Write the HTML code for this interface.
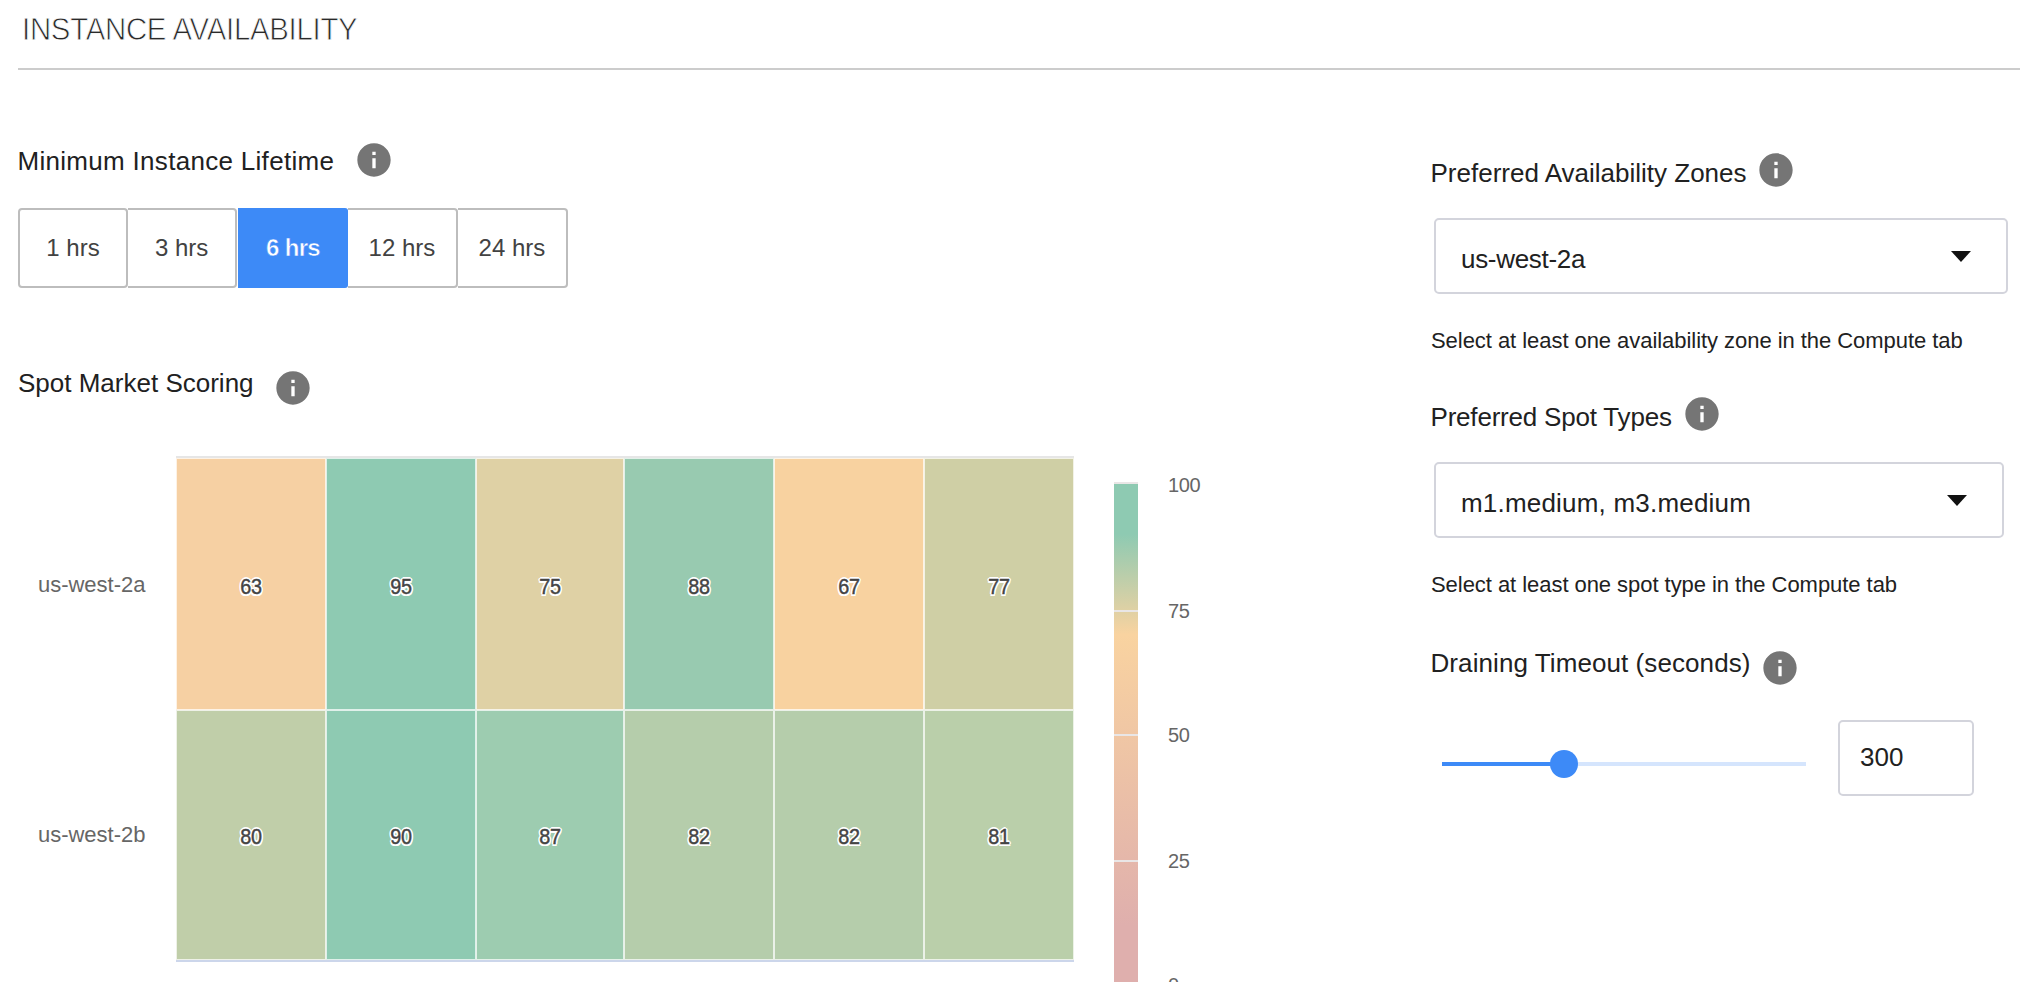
<!DOCTYPE html>
<html lang="en">
<head>
<meta charset="utf-8">
<title>Instance Availability</title>
<style>
*{box-sizing:border-box;margin:0;padding:0}
html,body{width:2020px;height:982px;overflow:hidden;background:#fff}
body{position:relative;font-family:"Liberation Sans",sans-serif;color:#212121}
.abs{position:absolute;white-space:nowrap}
.title{left:22px;top:11px;font-size:32px;line-height:36px;color:#2a2a2a;-webkit-text-stroke:0.8px #fff;letter-spacing:-0.3px;transform-origin:0 50%;transform:scaleX(0.918)}
.hr{left:18px;top:68px;width:2002px;height:2px;background:#cccccc}
.lbl{font-size:26px;line-height:30px;color:#212121}
.help{font-size:22px;line-height:26px;color:#212121}
.ico{width:40px;height:40px}
.btn{top:208px;height:80px;border:2px solid #bdbdbd;border-radius:4px;background:#fff;font-size:24px;line-height:76px;text-align:center;color:#424242}
.btn.nl{border-left:none;border-top-left-radius:0;border-bottom-left-radius:0}
.btn.on{background:#3d8af7;border:none;border-radius:0 3px 3px 0;color:#fff;font-weight:bold;line-height:80px;letter-spacing:-0.7px;-webkit-text-stroke:0.5px #3d8af7}
.sel{border:2px solid #d3d4dc;border-radius:5px;background:#fff;height:76px}
.sel span{position:absolute;left:25px;top:23px;font-size:26px;line-height:32px;color:#212121}
.sel i{position:absolute;width:0;height:0;border-left:10.5px solid transparent;border-right:10.5px solid transparent;border-top:11px solid #111}
.cell{position:absolute;border:1px solid rgba(255,255,255,.72);text-align:center}
.cell span{position:absolute;left:0;right:0;top:50%;margin-top:-10px;font-size:22.8px;line-height:24px;font-weight:normal;letter-spacing:-0.4px;color:#444;transform:scaleX(0.87);-webkit-text-stroke:0.45px #444;text-shadow:2px 0 0 #fff,-2px 0 0 #fff,0 2px 0 #fff,0 -2px 0 #fff,1.5px 1.5px 0 #fff,-1.5px 1.5px 0 #fff,1.5px -1.5px 0 #fff,-1.5px -1.5px 0 #fff,0 0 1px #fff}
.cell.r2 span{margin-top:-11px}
.ylab{font-size:22px;line-height:28px;color:#666;text-align:right;width:130px;left:15.5px}
.tick{font-size:20px;line-height:24px;color:#666;left:1168px;letter-spacing:-0.4px}
.grid{left:1114px;width:24px;height:2px;background:#e9e6e6}
</style>
</head>
<body>
<div class="abs title">INSTANCE AVAILABILITY</div>
<div class="abs hr"></div>

<div class="abs lbl" style="left:17.5px;top:146px;letter-spacing:0.3px">Minimum Instance Lifetime</div>
<svg class="abs ico" style="left:353.8px;top:139.9px" viewBox="0 0 24 24"><path fill="#757575" d="M12 2C6.48 2 2 6.48 2 12s4.48 10 10 10 10-4.480 10-10S17.520 2 12 2zm1 15h-2v-6h2v6zm0-8h-2V7h2v2z"/></svg>

<div class="abs btn" style="left:18px;width:110px">1 hrs</div>
<div class="abs btn nl" style="left:128px;width:109.3px">3 hrs</div>
<div class="abs btn on" style="left:238px;width:110px">6 hrs</div>
<div class="abs btn nl" style="left:348px;width:109.9px">12 hrs</div>
<div class="abs btn nl" style="left:457.9px;width:110px">24 hrs</div>

<div class="abs lbl" style="left:18px;top:368px">Spot Market Scoring</div>
<svg class="abs ico" style="left:273.1px;top:367.8px" viewBox="0 0 24 24"><path fill="#757575" d="M12 2C6.48 2 2 6.48 2 12s4.48 10 10 10 10-4.480 10-10S17.520 2 12 2zm1 15h-2v-6h2v6zm0-8h-2V7h2v2z"/></svg>

<!-- heatmap -->
<div class="abs" style="left:176px;top:456px;width:898px;height:2px;background:#e6e6e6"></div>
<div class="cell" style="left:176px;top:458px;width:150px;height:252px;background:#f6d0a3"><span>63</span></div>
<div class="cell" style="left:326px;top:458px;width:150px;height:252px;background:#8ecab2"><span>95</span></div>
<div class="cell" style="left:476px;top:458px;width:148px;height:252px;background:#dfd1a5"><span>75</span></div>
<div class="cell" style="left:624px;top:458px;width:150px;height:252px;background:#98cab0"><span>88</span></div>
<div class="cell" style="left:774px;top:458px;width:150px;height:252px;background:#f8d2a0"><span>67</span></div>
<div class="cell" style="left:924px;top:458px;width:150px;height:252px;background:#cfcfa5"><span>77</span></div>
<div class="cell r2" style="left:176px;top:710px;width:150px;height:250px;background:#c0cea9"><span>80</span></div>
<div class="cell r2" style="left:326px;top:710px;width:150px;height:250px;background:#8ecab2"><span>90</span></div>
<div class="cell r2" style="left:476px;top:710px;width:148px;height:250px;background:#9dccb0"><span>87</span></div>
<div class="cell r2" style="left:624px;top:710px;width:150px;height:250px;background:#b5cdab"><span>82</span></div>
<div class="cell r2" style="left:774px;top:710px;width:150px;height:250px;background:#b5cdab"><span>82</span></div>
<div class="cell r2" style="left:924px;top:710px;width:150px;height:250px;background:#bacfaa"><span>81</span></div>
<div class="abs" style="left:176px;top:960px;width:898px;height:2px;background:#ccd6eb"></div>

<div class="abs ylab" style="top:571px">us-west-2a</div>
<div class="abs ylab" style="top:821px">us-west-2b</div>

<!-- color axis -->
<div class="abs" style="left:1114px;top:482px;width:24px;height:2px;background:#e9e6e6"></div>
<div class="abs" style="left:1114px;top:484px;width:24px;height:502px;background:linear-gradient(to bottom,#8ecab2 0%,#8ecab2 10%,#f9d3a0 30%,#dfafad 88%,#dfafad 100%)"></div>
<div class="abs grid" style="top:610px"></div>
<div class="abs grid" style="top:734px"></div>
<div class="abs grid" style="top:860px"></div>
<div class="abs tick" style="top:473px">100</div>
<div class="abs tick" style="top:599px">75</div>
<div class="abs tick" style="top:723px">50</div>
<div class="abs tick" style="top:849px">25</div>
<div class="abs tick" style="top:973px">0</div>

<!-- right column -->
<div class="abs lbl" style="left:1430.5px;top:158px">Preferred Availability Zones</div>
<svg class="abs ico" style="left:1756.4px;top:149.8px" viewBox="0 0 24 24"><path fill="#757575" d="M12 2C6.48 2 2 6.48 2 12s4.48 10 10 10 10-4.480 10-10S17.520 2 12 2zm1 15h-2v-6h2v6zm0-8h-2V7h2v2z"/></svg>
<div class="abs sel" style="left:1434px;top:218px;width:574px"><span style="letter-spacing:-0.3px">us-west-2a</span><i style="left:515px;top:31px"></i></div>
<div class="abs help" style="left:1431px;top:328px;letter-spacing:-0.05px">Select at least one availability zone in the Compute tab</div>

<div class="abs lbl" style="left:1430.5px;top:402px;letter-spacing:-0.2px">Preferred Spot Types</div>
<svg class="abs ico" style="left:1682.2px;top:393.9px" viewBox="0 0 24 24"><path fill="#757575" d="M12 2C6.48 2 2 6.48 2 12s4.48 10 10 10 10-4.480 10-10S17.520 2 12 2zm1 15h-2v-6h2v6zm0-8h-2V7h2v2z"/></svg>
<div class="abs sel" style="left:1434px;top:462px;width:570px"><span style="letter-spacing:0.2px">m1.medium, m3.medium</span><i style="left:511px;top:31px"></i></div>
<div class="abs help" style="left:1431px;top:572px;letter-spacing:-0.05px">Select at least one spot type in the Compute tab</div>

<div class="abs lbl" style="left:1430.5px;top:648px;letter-spacing:0.08px">Draining Timeout (seconds)</div>
<svg class="abs ico" style="left:1760.4px;top:648px" viewBox="0 0 24 24"><path fill="#757575" d="M12 2C6.48 2 2 6.48 2 12s4.48 10 10 10 10-4.480 10-10S17.520 2 12 2zm1 15h-2v-6h2v6zm0-8h-2V7h2v2z"/></svg>

<div class="abs" style="left:1442px;top:762px;width:364px;height:4px;background:#d5e5fd"></div>
<div class="abs" style="left:1442px;top:762px;width:122px;height:4px;background:#3d8af7"></div>
<div class="abs" style="left:1550px;top:750px;width:28px;height:28px;border-radius:50%;background:#3d8af7"></div>
<div class="abs" style="left:1838px;top:720px;width:136px;height:76px;border:2px solid #d3d4dc;border-radius:5px"><span style="position:absolute;left:20px;top:19px;font-size:26px;line-height:32px">300</span></div>
</body>
</html>
